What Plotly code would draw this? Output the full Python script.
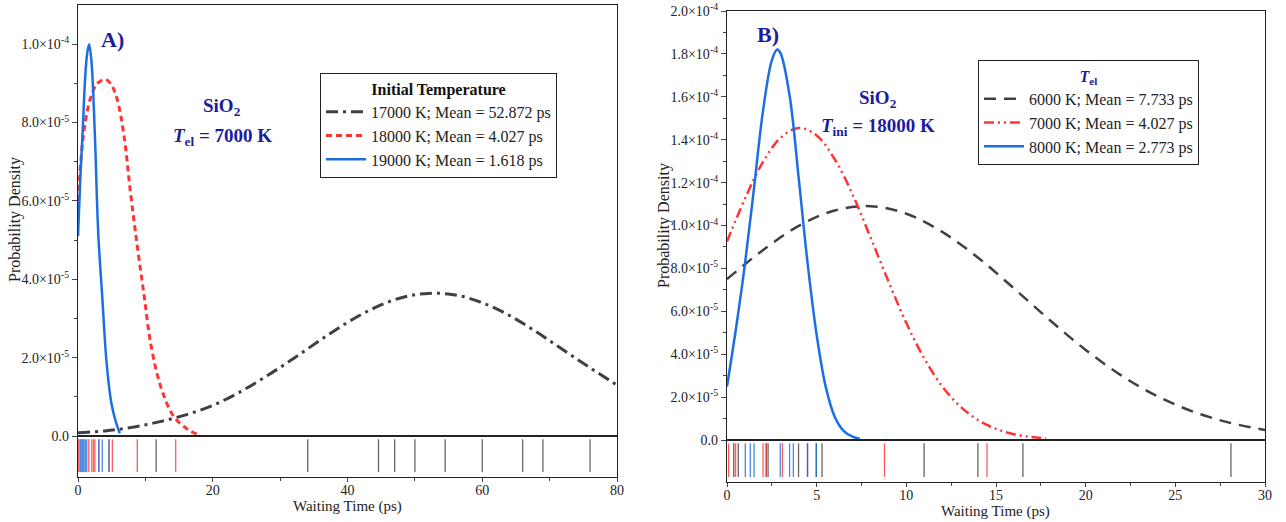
import plotly.graph_objects as go

FONT = "Liberation Serif, Times New Roman, serif"
NAVY = "#1c1ca0"
C_BLACK = "#404040"
C_RED = "#ff3535"
C_BLUE = "#1c6fe3"

# ---- panel A: Tel = 7000 K, different initial temperatures (density in 1e-6) ----
a_t_17000 = [0, 4, 8, 12, 16, 20, 24, 28, 32, 36, 40, 44, 48, 52, 56, 60, 64, 68, 72, 76, 80]
a_pd_17000 = [0.8, 1.3, 2.2, 3.6, 5.4, 7.8, 11.2, 15.3, 19.8, 24.5, 29.0, 32.7, 35.3, 36.4, 36.0, 34.0, 30.8, 26.6, 22.0, 17.4, 13.0]

a_t_18000 = [0, 0.9, 1.9, 2.9, 4.1, 5.0, 5.8, 6.8, 7.8, 8.8, 9.8, 10.8, 12.3, 14.2, 16.2, 17.8]
a_pd_18000 = [60, 78, 86.5, 90, 91, 89.5, 86, 77, 62, 48.5, 36, 23.5, 12.5, 5, 1.8, 0.3]

a_t_19000 = [0, 0.35, 0.7, 1.05, 1.35, 1.65, 2.0, 2.5, 3.0, 3.6, 4.25, 4.95, 5.6, 6.2]
a_pd_19000 = [51, 66, 78, 91, 97.5, 100, 95.5, 77, 52, 35.5, 18.6, 8.4, 3.7, 0.7]

a_rug_17000 = [11.6, 34.1, 44.6, 47.0, 50.0, 54.5, 60.0, 66.0, 69.0, 76.0]
a_rug_18000 = [0.1, 1.6, 2.05, 2.3, 2.5, 3.1, 4.6, 5.1, 8.8, 14.5]
a_rug_19000 = [0.3, 0.4, 0.5, 0.7, 0.8, 0.9, 1.1, 1.3, 3.1, 3.6, 4.6]

# ---- panel B: Tini = 18000 K, different electron temperatures ----
b_t_6000 = [0, 2, 4, 6, 8, 10, 12, 14, 16, 18, 20, 22, 24, 26, 28, 30]
b_pd_6000 = [75, 88.5, 99.8, 107, 109, 105.5, 97, 85, 70.7, 55.9, 42, 30, 20.4, 13.2, 8.1, 4.7]

b_t_7000 = [0, 1, 2, 3, 4, 5, 6, 7, 8, 9, 10, 11, 12, 13, 14, 15, 16, 17, 17.8]
b_pd_7000 = [92.5, 112.5, 129.5, 141, 145.5, 142, 131, 114.5, 94.5, 74, 54.5, 38, 25, 15.7, 9.3, 5.2, 2.7, 1.4, 0.8]

b_t_8000 = [0, 0.5, 1.0, 1.5, 2.0, 2.5, 2.8, 3.0, 3.5, 4.0, 4.5, 5.0, 5.5, 6.0, 6.5, 7.0, 7.4]
b_pd_8000 = [25, 52, 82, 117, 153, 177, 182, 180, 160, 122, 82, 49, 25, 11, 4.3, 1.6, 0.6]

b_rug_6000 = [0.37, 0.63, 2.19, 2.29, 3.99, 4.49, 4.98, 5.30, 10.99, 13.99, 16.5, 28.1]
b_rug_7000 = [0.09, 0.37, 0.48, 2.01, 2.19, 3.09, 8.78, 14.5]
b_rug_8000 = [1.02, 1.30, 1.51, 2.97, 3.49, 3.70, 4.49, 4.98]

a_yticks = [0, 20, 40, 60, 80, 100]
a_yticktext = ["0.0", "2.0×10<sup>-5</sup>", "4.0×10<sup>-5</sup>", "6.0×10<sup>-5</sup>",
               "8.0×10<sup>-5</sup>", "1.0×10<sup>-4</sup>"]
b_yticks = [0, 20, 40, 60, 80, 100, 120, 140, 160, 180, 200]
b_yticktext = ["0.0", "2.0×10<sup>-5</sup>", "4.0×10<sup>-5</sup>", "6.0×10<sup>-5</sup>",
               "8.0×10<sup>-5</sup>", "1.0×10<sup>-4</sup>", "1.2×10<sup>-4</sup>",
               "1.4×10<sup>-4</sup>", "1.6×10<sup>-4</sup>", "1.8×10<sup>-4</sup>",
               "2.0×10<sup>-4</sup>"]


def rug(vals, y0=0.12, y1=0.92):
    xs, ys = [], []
    for v in vals:
        xs += [v, v, None]
        ys += [y0, y1, None]
    return xs, ys


fig = go.Figure()

# panel A curves
fig.add_trace(go.Scatter(x=a_t_17000, y=a_pd_17000, mode="lines", name="17000 K; Mean = 52.872 ps",
                         line=dict(color=C_BLACK, width=3, dash="12px,5px,3px,5px", shape="spline"),
                         xaxis="x", yaxis="y", legend="legend"))
fig.add_trace(go.Scatter(x=a_t_18000, y=a_pd_18000, mode="lines", name="18000 K; Mean = 4.027 ps",
                         line=dict(color=C_RED, width=3, dash="6px,4px", shape="spline"),
                         xaxis="x", yaxis="y", legend="legend"))
fig.add_trace(go.Scatter(x=a_t_19000, y=a_pd_19000, mode="lines", name="19000 K; Mean = 1.618 ps",
                         line=dict(color=C_BLUE, width=2.5, shape="spline"),
                         xaxis="x", yaxis="y", legend="legend"))

# panel B curves
fig.add_trace(go.Scatter(x=b_t_6000, y=b_pd_6000, mode="lines", name="6000 K; Mean = 7.733 ps",
                         line=dict(color=C_BLACK, width=2.5, dash="12px,8px", shape="spline"),
                         xaxis="x3", yaxis="y3", legend="legend2"))
fig.add_trace(go.Scatter(x=b_t_7000, y=b_pd_7000, mode="lines", name="7000 K; Mean = 4.027 ps",
                         line=dict(color=C_RED, width=2.5, dash="10px,4px,2px,4px,2px,4px", shape="spline"),
                         xaxis="x3", yaxis="y3", legend="legend2"))
fig.add_trace(go.Scatter(x=b_t_8000, y=b_pd_8000, mode="lines", name="8000 K; Mean = 2.773 ps",
                         line=dict(color=C_BLUE, width=2.5, shape="spline"),
                         xaxis="x3", yaxis="y3", legend="legend2"))

# rugs
for vals, col, xa, ya in [(a_rug_17000, C_BLACK, "x2", "y2"), (a_rug_18000, C_RED, "x2", "y2"),
                          (a_rug_19000, C_BLUE, "x2", "y2"), (b_rug_6000, C_BLACK, "x4", "y4"),
                          (b_rug_7000, C_RED, "x4", "y4"), (b_rug_8000, C_BLUE, "x4", "y4")]:
    rx, ry = rug(vals)
    fig.add_trace(go.Scatter(x=rx, y=ry, mode="lines", line=dict(color=col, width=1.3),
                             opacity=0.8, showlegend=False, hoverinfo="skip", xaxis=xa, yaxis=ya))

W, H = 1286, 522
ax_dom_a = [78 / W, 617 / W]
ax_dom_b = [727 / W, 1265 / W]
frame = dict(showline=True, linecolor="#222", linewidth=1.3, mirror=True, showgrid=False,
             zeroline=False, automargin=False)
tickfont = dict(family=FONT, size=14, color="#222")

fig.update_layout(
    template="none",
    width=W, height=H, margin=dict(l=0, r=0, t=0, b=0, autoexpand=False),
    paper_bgcolor="white", plot_bgcolor="white",
    font=dict(family=FONT, color="#222"),
    xaxis=dict(frame, domain=ax_dom_a, range=[0, 80], showticklabels=False, ticks=""),
    yaxis=dict(frame, domain=[1 - 436 / H, 1 - 5 / H], range=[0, 110], tickvals=a_yticks,
               ticktext=a_yticktext, ticks="outside", ticklen=5, tickfont=tickfont,
               minor=dict(tickvals=[10, 30, 50, 70, 90], ticks="outside", ticklen=3)),
    xaxis2=dict(frame, domain=ax_dom_a, range=[0, 80], anchor="y2", tickvals=[0, 20, 40, 60, 80],
                ticks="outside", ticklen=4, tickfont=tickfont, ticklabelstandoff=-4,
                minor=dict(tickvals=[10, 30, 50, 70], ticks="outside", ticklen=3)),
    yaxis2=dict(frame, domain=[1 - 477 / H, 1 - 436 / H], range=[0, 1], anchor="x2",
                showticklabels=False, ticks=""),
    xaxis3=dict(frame, domain=ax_dom_b, range=[0, 30], anchor="y3", showticklabels=False, ticks=""),
    yaxis3=dict(frame, domain=[1 - 440 / H, 1 - 11 / H], range=[0, 200], anchor="x3",
                tickvals=b_yticks, ticktext=b_yticktext, ticks="outside", ticklen=5, tickfont=tickfont,
                minor=dict(tickvals=[10, 30, 50, 70, 90, 110, 130, 150, 170, 190], ticks="outside", ticklen=3)),
    xaxis4=dict(frame, domain=ax_dom_b, range=[0, 30], anchor="y4", tickvals=[0, 5, 10, 15, 20, 25, 30],
                ticks="outside", ticklen=4, tickfont=tickfont, ticklabelstandoff=-4,
                minor=dict(tickvals=[2.5, 7.5, 12.5, 17.5, 22.5, 27.5], ticks="outside", ticklen=3)),
    yaxis4=dict(frame, domain=[1 - 482 / H, 1 - 440 / H], range=[0, 1], anchor="x4",
                showticklabels=False, ticks=""),
    legend=dict(x=320 / W, y=1 - 73 / H, xanchor="left", yanchor="top", bgcolor="white",
                bordercolor="#222", borderwidth=1, font=dict(family=FONT, size=16, color="#222"),
                itemwidth=40, tracegroupgap=0,
                title=dict(text="<b>Initial Temperature</b>", side="top center",
                           font=dict(family=FONT, size=16, color="#111"))),
    legend2=dict(x=978 / W, y=1 - 60 / H, xanchor="left", yanchor="top", bgcolor="white",
                 bordercolor="#222", borderwidth=1, font=dict(family=FONT, size=16, color="#222"),
                 itemwidth=40, tracegroupgap=0,
                 title=dict(text="<b><i>T</i><sub>el</sub></b>", side="top center",
                            font=dict(family=FONT, size=16, color=NAVY))),
)

annots = [
    dict(x=113, y=40, text="<b>A)</b>", size=22, color=NAVY),
    dict(x=222, y=107, text="<b>SiO<sub>2</sub></b>", size=19, color=NAVY),
    dict(x=222, y=137, text="<b><i>T</i><sub>el</sub> = 7000 K</b>", size=19, color=NAVY),
    dict(x=768, y=34, text="<b>B)</b>", size=22, color=NAVY),
    dict(x=878, y=99, text="<b>SiO<sub>2</sub></b>", size=19, color=NAVY),
    dict(x=878, y=127, text="<b><i>T</i><sub>ini</sub> = 18000 K</b>", size=19, color=NAVY),
    dict(x=347, y=506, text="Waiting Time (ps)", size=15, color="#222"),
    dict(x=995, y=511, text="Waiting Time (ps)", size=15, color="#222"),
]
for a in annots:
    fig.add_annotation(x=a["x"] / W, y=1 - a["y"] / H, xref="paper", yref="paper", text=a["text"],
                       showarrow=False, font=dict(family=FONT, size=a["size"], color=a["color"]),
                       xanchor="center", yanchor="middle")
fig.add_annotation(x=15 / W, y=1 - 220 / H, xref="paper", yref="paper", text="Probability Density",
                   textangle=-90, showarrow=False, xanchor="center", yanchor="middle",
                   font=dict(family=FONT, size=16, color="#222"))
fig.add_annotation(x=664 / W, y=1 - 226 / H, xref="paper", yref="paper", text="Probability Density",
                   textangle=-90, showarrow=False, xanchor="center", yanchor="middle",
                   font=dict(family=FONT, size=16, color="#222"))

# drop the default 8px page margin so the figure sits at the window corner
fig.write_html("out.html", config={"displayModeBar": False},
               post_script="document.body.style.margin = '0';")
